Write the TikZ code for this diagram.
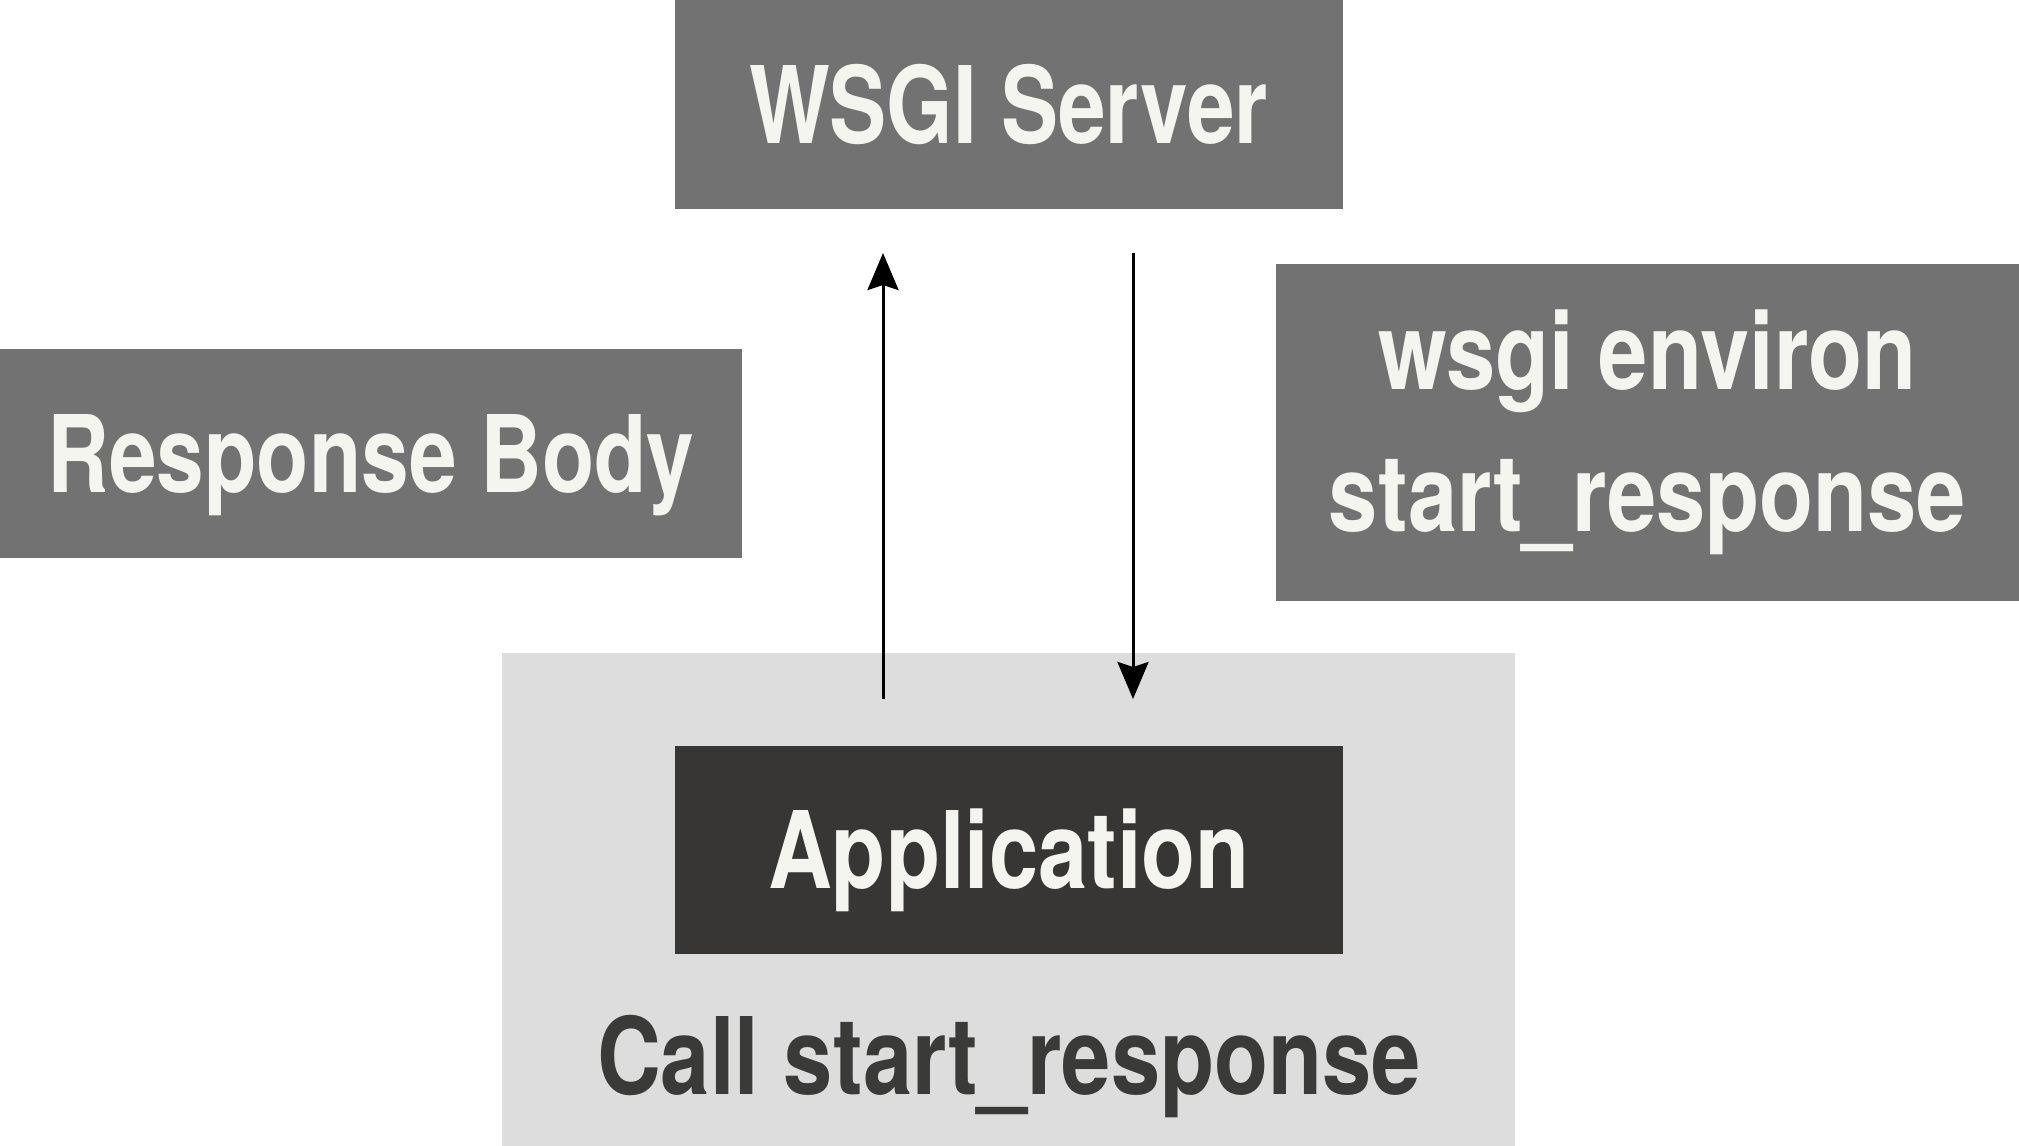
\documentclass[tikz,border=0pt]{standalone}
\usepackage{fontspec}
\setmainfont{TeX Gyre Heros}[FakeStretch=0.8]
\newfontfamily\widerfont{TeX Gyre Heros}[FakeStretch=0.827]
\usetikzlibrary{arrows.meta}
\definecolor{boxgray}{HTML}{727272}
\definecolor{lightbg}{HTML}{DCDDDC}
\definecolor{darkbox}{HTML}{373634}
\definecolor{txtw}{HTML}{F5F5F0}
\definecolor{txtd}{HTML}{3A3A38}
\tikzset{
  box/.style={rectangle, inner sep=0pt, draw=none, text=txtw,
    font=\fontsize{107}{142}\selectfont\bfseries},
  widebox/.style={font=\fontsize{107}{142}\selectfont\widerfont\bfseries},
  oneline/.style={text height=77pt, text depth=0pt},
  arr/.style={line width=3pt, -{Stealth[length=37pt,width=31pt,inset=5pt]}}
}
\begin{document}
\begin{tikzpicture}[x=1pt,y=-1pt]
\useasboundingbox (0,0) rectangle (2019,1146);
\node[box, fill=lightbg, minimum width=1013pt, minimum height=493pt] (bg) at (1008.5,899.5) {};
\node[box, oneline, fill=boxgray, minimum width=668pt, minimum height=209pt] (server) at (1009,104.5) {WSGI Server};
\node[box, oneline, fill=boxgray, minimum width=742pt, minimum height=209pt] (body) at (371,453.5) {Response Body};
\node[box, widebox, fill=boxgray, minimum width=743pt, minimum height=337pt, align=center] (environ) at (1647.5,432.5) {wsgi environ\\start\_response};
\node[box, widebox, oneline, fill=darkbox, minimum width=668pt, minimum height=208pt] (app) at (1009,850) {Application};
\node[anchor=base, text=txtd, inner sep=0pt, font=\fontsize{107}{142}\selectfont\widerfont\bfseries] (call) at (1009,1094) {Call start\_response};
\coordinate (upS) at (883,699);
\coordinate (upE) at (883,253);
\coordinate (dnS) at (1133,253);
\coordinate (dnE) at (1133,699);
\draw[arr] (upS) -- (upE);
\draw[arr] (dnS) -- (dnE);
\end{tikzpicture}
\end{document}
